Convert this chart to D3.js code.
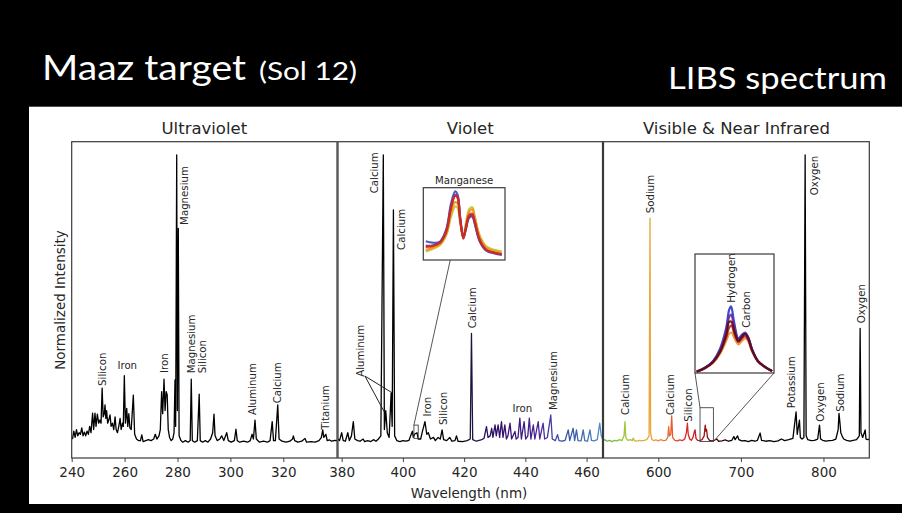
<!DOCTYPE html>
<html>
<head>
<meta charset="utf-8">
<script src="https://cdn.jsdelivr.net/npm/d3@7"></script>
<style>
  body { margin: 0; background: #000; }
  svg { display: block; }
  .chart-text { font-family: "DejaVu Sans", sans-serif; fill: #262626; }
  .head-text { font-family: Lato, "Open Sans", sans-serif; fill: #fff; }
</style>
</head>
<body>
<svg id="chart" width="902" height="513"></svg>
<script>
// ---- data (wavelength nm, normalized intensity 0-100) ----
const panelTitles = ['Ultraviolet', 'Violet', 'Visible & Near Infrared'];
const uvTicks = [240, 260, 280, 300, 320];
const violetTicks = [380, 400, 420, 440, 460];
const vnirTicks = [600, 700, 800];

const uvSpectrum = [
  [240.3, 6], [240.8, 8.5], [241.3, 6.5], [241.8, 9], [242.3, 7], [242.8, 8], [243.3, 7.5], [243.8, 9.5],
  [244.3, 7], [244.8, 8.2], [245.3, 7], [245.8, 8.5], [246.3, 7.5], [246.8, 10], [247.3, 8], [247.9, 14.2],
  [248.3, 9], [248.8, 14.2], [249.2, 10], [249.7, 13.9], [250.2, 11], [250.7, 12], [251.1, 11], [251.5, 22.1],
  [251.9, 13], [252.3, 14], [252.6, 16.8], [252.9, 12.5], [253.2, 15], [253.6, 11], [254, 12], [254.5, 13.6],
  [254.9, 10], [255.4, 11], [255.9, 9], [256.4, 13], [256.8, 9], [257.3, 8], [257.8, 10], [258.3, 12.5],
  [258.7, 9], [259.2, 11], [259.5, 10], [259.9, 26], [260.3, 11], [260.8, 15.7], [261.2, 10], [261.6, 14],
  [262, 9.5], [262.5, 9], [263.3, 19.9], [263.8, 7.5], [264.5, 6], [265.2, 5.5], [266, 5.5], [266.5, 7.3],
  [267, 5.2], [268, 5.5], [269, 5.8], [270, 5.5], [271, 6], [271.6, 7.5], [272.2, 6], [273, 7], [273.5, 9],
  [274, 21], [274.4, 14], [274.9, 24.9], [275.3, 15], [275.7, 21], [276.1, 20], [276.5, 9], [277, 6.5],
  [277.6, 5.5], [278.2, 6], [278.7, 8], [279.05, 24.7], [279.3, 10], [279.7, 95.8], [279.95, 15], [280.3, 72.6],
  [280.6, 7], [281.3, 5.5], [282, 5], [283, 5.5], [284, 5], [284.8, 5.5], [285.2, 24.9], [285.6, 5.5],
  [286.5, 5], [287.5, 5.5], [288.2, 20.2], [288.6, 5.5], [289.5, 5], [290.5, 5.5], [291.5, 5], [292.5, 6],
  [293.3, 8], [293.8, 13.9], [294.2, 7], [295, 5.5], [296, 6], [296.7, 7], [297.5, 5.5], [298.6, 8],
  [299.2, 5.5], [300.3, 5], [301.5, 5.5], [302.1, 9.1], [302.6, 5.5], [303.5, 5], [305, 5.3], [306.5, 5],
  [307.5, 5.5], [308.2, 7.5], [308.7, 6], [309.3, 12], [309.8, 6], [311, 5], [312.5, 5.3], [314, 5],
  [315, 5.5], [315.8, 11.5], [316.3, 5.5], [317, 5.5], [317.9, 16.8], [318.4, 6], [319.5, 5.3], [321, 5],
  [322.5, 5.3], [323.5, 6], [323.8, 7], [324.3, 5.5], [325.5, 5], [327, 5.3], [328.2, 6.2], [328.8, 5],
  [330.5, 5.2], [332, 5], [333.5, 5.5], [334.4, 6.5], [334.9, 8.9], [335.3, 6.5], [336.1, 7.5], [336.6, 5.5],
  [337.5, 5.7], [338.3, 5.3], [339.5, 5.6], [340.4, 5.5]
];

const violetSpectrum = [
  [378.8, 6], [379.3, 5.5], [380, 8], [380.5, 5.5], [381.2, 5.3], [382, 8], [382.5, 5.5], [383.2, 7],
  [383.8, 11.5], [384.3, 6], [385.2, 5.5], [386, 5.3], [387, 6], [387.5, 5.2], [388.5, 5.5], [389.5, 5.2],
  [390.5, 5.8], [391.2, 5.3], [392, 6], [392.8, 7], [393.6, 95.8], [393.95, 9], [394.4, 15], [394.9, 8],
  [395.5, 6.5], [396.15, 20.5], [396.5, 10], [396.9, 78.4], [397.3, 7], [398, 5.5], [399, 5.2], [400, 5.5],
  [401, 5.3], [402, 5.6], [403.1, 8.5], [403.4, 6.5], [403.8, 7.5], [404.6, 8], [405, 6], [405.8, 6],
  [406.4, 8.5], [407.2, 11.5], [407.8, 7.5], [408.3, 8], [409, 6], [410, 6.5], [410.6, 5.5], [411.5, 6.5],
  [412.2, 6], [412.8, 8.9], [413.3, 5.8], [414.3, 5.5], [415.3, 6.5], [416, 5.3], [417, 5.5], [417.5, 7],
  [418, 5.3], [419.5, 5.2], [421, 5.5], [422, 6], [422.4, 39.4], [422.8, 5.8], [424, 5.3], [425.5, 5.7],
  [426.5, 6.2], [427.3, 9.9], [427.8, 6.5], [428.5, 7], [429, 9.4], [429.4, 6.5], [430.1, 10.5], [430.5, 7],
  [431.1, 10.5], [431.6, 6.5], [432.2, 11.5], [432.7, 6.5], [433.3, 10.5], [433.8, 6], [434.3, 7], [435, 11],
  [435.5, 6], [436.6, 8.4], [437, 6], [437.6, 6.5], [438.2, 12.6], [438.7, 6], [439.6, 11.5], [440.1, 6],
  [440.8, 7], [441.3, 12.6], [441.8, 6], [442.6, 10.5], [443.1, 6], [444.2, 11.5], [444.7, 6], [445.8, 11],
  [446.3, 6], [447.2, 6.5], [448.3, 13.6], [448.8, 6], [449.8, 5.5], [450.5, 7.4], [451, 5.5], [452, 5.3],
  [453, 5.6], [454, 8.9], [454.5, 5.5], [455.6, 9.4], [456.1, 5.5], [456.7, 8.9], [457.2, 5.5], [458.2, 5.4],
  [458.9, 8.9], [459.4, 5.5], [460.3, 5.3], [461.1, 8.9], [461.6, 5.6], [462.5, 5.4], [463.5, 5.8], [464.3, 11],
  [464.8, 7], [465.2, 6]
];

const vnirSpectrum = [
  [533.6, 5.5], [535, 5.8], [538, 5.3], [541, 5.6], [544, 5.2], [547, 5.6], [550, 5.4], [553, 5.8],
  [556, 5.5], [558.5, 7], [559.6, 11.5], [560.6, 6.5], [563, 5.6], [566, 5.8], [568.5, 5.5], [569.7, 6.3],
  [571, 5.5], [574, 5.3], [577, 5.6], [580, 5.4], [583, 5.6], [586, 5.8], [588.8, 7], [589.9, 75.8],
  [590.6, 8], [592, 6], [594, 5.5], [597, 5.7], [600, 5.4], [603, 5.8], [606, 5.5], [609, 5.6],
  [611.5, 6.5], [612.5, 9.9], [613.5, 7], [615, 7.5], [616.2, 13.3], [617.3, 6.5], [620, 5.6], [623, 5.4],
  [626, 5.7], [629, 5.5], [632, 6], [634, 8], [635.2, 11], [636.2, 7.5], [638, 6], [640, 5.6],
  [642, 6.5], [643.5, 8.2], [644.5, 8.9], [645.6, 6.2], [647.5, 5.6], [650, 5.5], [653, 5.8], [655.5, 7],
  [656.8, 10.4], [657.6, 8.5], [658.4, 9], [659.5, 6.5], [662, 5.6], [665, 5.4], [668, 5.6], [670.8, 6],
  [673, 5.3], [677, 5.4], [681, 5.7], [685, 5.3], [689, 5.6], [691.5, 6.8], [693, 5.8], [696, 7],
  [697.5, 5.8], [701, 5.4], [705, 5.5], [709, 5.2], [713, 5.6], [717, 5.3], [720, 5.6], [723.3, 7.9],
  [725, 5.6], [730, 5.3], [735, 5.5], [740, 5.2], [745, 5.4], [749, 6], [753, 5.5], [758, 5.8],
  [763, 6.2], [766.8, 14.6], [768.2, 7.5], [770.9, 12], [772, 6.5], [774, 6], [776.3, 6.5], [777.8, 95.8],
  [779, 7], [781, 5.8], [785, 5.5], [789, 5.6], [793, 6], [795.2, 10.4], [796.5, 6], [799, 5.6],
  [803, 5.3], [807, 5.5], [811, 5.6], [815, 6], [817.8, 9], [818.8, 14.1], [820, 11], [821, 8],
  [822.5, 7], [824.5, 6], [828, 5.6], [832, 5.3], [836, 5.6], [840, 5.8], [843.4, 7], [844.4, 41],
  [845.4, 8], [847.5, 6.5], [850.5, 8.9], [851.5, 6], [853.5, 5.8], [855.5, 6]
];

// colour of the trace by wavelength
const violetColorStops = [[419, '#000000'], [422, '#1c1440'], [427, '#2a0f60'], [436, '#3a1478'],
  [445, '#4a2a98'], [451, '#3c48a8'], [458, '#3c6aa8'], [465, '#5090c8']];
const vnirColorStops = [[534, '#58b848'], [548, '#7cc040'], [560, '#a0c838'], [575, '#d8b030'],
  [589, '#e8a838'], [600, '#f0903a'], [615, '#e86030'], [630, '#e03028'], [642, '#d02020'],
  [656, '#a01010'], [668, '#5a0808'], [680, '#200000'], [690, '#000000']];

// peak labels: [text, wavelength, intensity at text start, orientation]
const uvLabels = [
  ['Silicon', 251.5, 22.8, 'v'], ['Iron', 261, 28.1, 'h'], ['Iron', 274.9, 26.9, 'v'],
  ['Magnesium', 282.8, 73.7, 'v'], ['Magnesium', 285.1, 26.8, 'v'], ['Silicon', 289.5, 26.8, 'v'],
  ['Aluminum', 308.4, 13.6, 'v'], ['Calcium', 317.7, 17.3, 'v'], ['Titanium', 335.8, 8.9, 'v']
];
const violetLabels = [
  ['Calcium', 390.6, 83.7, 'v'], ['Calcium', 399.4, 65.8, 'v'], ['Aluminum', 386, 25.7, 'v'],
  ['Iron', 408.1, 13.1, 'v'], ['Silicon', 413.2, 10.4, 'v'], ['Calcium', 422.6, 41, 'v'],
  ['Iron', 439, 14.5, 'h'], ['Magnesium', 449.1, 15.2, 'v']
];
const vnirLabels = [
  ['Calcium', 559.6, 13.6, 'v'], ['Sodium', 590.8, 77.4, 'v'], ['Calcium', 614.9, 13.6, 'v'],
  ['Silicon', 636.4, 11.5, 'v'], ['Potassium', 761.7, 15.7, 'v'], ['Oxygen', 788.5, 83.1, 'v'],
  ['Oxygen', 796.6, 11.5, 'v'], ['Sodium', 820.9, 14.6, 'v'], ['Oxygen', 845.7, 42.6, 'v']
];
// Aluminum pointer lines: [start wl, start int, end wl, end int]
const aluminumPointers = [[387.6, 25.9, 393.9, 14.6], [387.6, 25.9, 396.5, 20.6]];

// zoom insets (wavelength, relative intensity 0-1)
const manganeseRange = [[403.6, 405.0], [6.2, 10.4]];
const manganeseTraces = [
  { color: '#c8c02e', points: [[402.78, 0.12], [402.86, 0.15], [402.95, 0.2], [403.03, 0.34], [403.09, 0.6], [403.14, 0.74], [403.17, 0.72], [403.2, 0.52], [403.24, 0.33], [403.27, 0.5], [403.31, 0.7], [403.35, 0.73], [403.38, 0.6], [403.44, 0.34], [403.52, 0.19], [403.62, 0.14], [403.71, 0.12]] },
  { color: '#ec921e', points: [[402.78, 0.14], [402.86, 0.17], [402.95, 0.22], [403.03, 0.36], [403.09, 0.66], [403.14, 0.8], [403.17, 0.78], [403.2, 0.55], [403.24, 0.31], [403.27, 0.46], [403.31, 0.66], [403.35, 0.7], [403.38, 0.58], [403.44, 0.32], [403.52, 0.17], [403.62, 0.12], [403.71, 0.1]] },
  { color: '#3a4cc0', points: [[402.78, 0.26], [402.86, 0.24], [402.95, 0.25], [403.03, 0.42], [403.09, 0.78], [403.14, 0.95], [403.17, 0.9], [403.2, 0.6], [403.24, 0.32], [403.27, 0.42], [403.31, 0.58], [403.35, 0.6], [403.38, 0.5], [403.44, 0.26], [403.52, 0.13], [403.62, 0.09], [403.71, 0.07]] },
  { color: '#8a2a70', points: [[402.78, 0.2], [402.86, 0.2], [402.95, 0.24], [403.03, 0.4], [403.09, 0.74], [403.14, 0.9], [403.17, 0.87], [403.2, 0.59], [403.24, 0.3], [403.27, 0.43], [403.31, 0.6], [403.35, 0.62], [403.38, 0.52], [403.44, 0.27], [403.52, 0.14], [403.62, 0.1], [403.71, 0.08]] },
  { color: '#d42a1e', points: [[402.78, 0.18], [402.86, 0.19], [402.95, 0.235], [403.03, 0.39], [403.09, 0.72], [403.14, 0.885], [403.17, 0.86], [403.2, 0.58], [403.24, 0.3], [403.27, 0.44], [403.31, 0.62], [403.35, 0.64], [403.38, 0.53], [403.44, 0.28], [403.52, 0.14], [403.62, 0.1], [403.71, 0.08]] }
];
const hydrogenRange = [[650.5, 666.7], [5.2, 15.9]];
const hydrogenTraces = [
  { color: '#e8942e', points: [[649.15, 0.01], [650.85, 0.04], [652.5, 0.085], [653.9, 0.16], [655.2, 0.27], [655.8, 0.33], [656.3, 0.34], [656.8, 0.3], [657.7, 0.24], [658.4, 0.27], [659.1, 0.29], [659.7, 0.27], [660.5, 0.18], [661.7, 0.095], [663.2, 0.048], [664.6, 0.016]] },
  { color: '#c82020', points: [[649.15, 0.011], [650.85, 0.042], [652.5, 0.09], [653.9, 0.17], [655.2, 0.3], [655.8, 0.38], [656.3, 0.4], [656.8, 0.34], [657.7, 0.26], [658.4, 0.29], [659.1, 0.31], [659.7, 0.28], [660.5, 0.19], [661.7, 0.1], [663.2, 0.05], [664.6, 0.017]] },
  { color: '#2838c8', points: [[649.15, 0.012], [650.85, 0.045], [652.5, 0.1], [653.9, 0.2], [655.2, 0.38], [655.8, 0.53], [656.2, 0.56], [656.8, 0.43], [657.7, 0.29], [658.4, 0.32], [659.1, 0.34], [659.7, 0.3], [660.5, 0.2], [661.7, 0.1], [663.2, 0.05], [664.6, 0.016]] },
  { color: '#6a2a9a', points: [[649.15, 0.012], [650.85, 0.044], [652.5, 0.096], [653.9, 0.19], [655.2, 0.35], [655.8, 0.47], [656.2, 0.49], [656.8, 0.4], [657.7, 0.28], [658.4, 0.31], [659.1, 0.33], [659.7, 0.3], [660.5, 0.2], [661.7, 0.1], [663.2, 0.05], [664.6, 0.016]] },
  { color: '#5a0a18', points: [[649.15, 0.011], [650.85, 0.042], [652.5, 0.092], [653.9, 0.176], [655.2, 0.319], [655.8, 0.429], [656.3, 0.429], [656.8, 0.361], [657.7, 0.269], [658.4, 0.303], [659.1, 0.328], [659.7, 0.294], [660.5, 0.193], [661.7, 0.101], [663.2, 0.05], [664.6, 0.017]] }
];
const hydrogenLabels = [['Hydrogen', 656.3, 0.59], ['Carbon', 659.4, 0.38]];

// ---- layout ----
const PLOT_TOP = 141.7;
const PLOT_BOTTOM = 458;
const panels = [
  { title: panelTitles[0], x0: 71.7, x1: 337, domain: [240, 340.3], ticks: uvTicks, data: uvSpectrum, labels: uvLabels, stops: null },
  { title: panelTitles[1], x0: 338, x1: 602.5, domain: [378.8, 465.2], ticks: violetTicks, data: violetSpectrum, labels: violetLabels, stops: violetColorStops },
  { title: panelTitles[2], x0: 603.5, x1: 869.3, domain: [533.6, 855.5], ticks: vnirTicks, data: vnirSpectrum, labels: vnirLabels, stops: vnirColorStops }
];

const svg = d3.select('#chart');
const defs = svg.append('defs');

// white card on black background
svg.append('rect').attr('x', 29).attr('y', 106.7).attr('width', 873).attr('height', 397.3).attr('fill', '#fff');

// header
svg.append('text').attr('class', 'head-text').attr('x', 42).attr('y', 80)
  .attr('font-size', 34).attr('textLength', 204).attr('lengthAdjust', 'spacingAndGlyphs').text('Maaz target');
svg.append('text').attr('class', 'head-text').attr('x', 259).attr('y', 80)
  .attr('font-size', 25).attr('textLength', 98).attr('lengthAdjust', 'spacingAndGlyphs').text('(Sol 12)');
svg.append('text').attr('class', 'head-text').attr('x', 668).attr('y', 89)
  .attr('font-size', 31).attr('textLength', 219).attr('lengthAdjust', 'spacingAndGlyphs').text('LIBS spectrum');

const y = d3.scaleLinear().domain([0, 100]).range([PLOT_BOTTOM, PLOT_TOP]);

panels.forEach((p, i) => {
  const x = d3.scaleLinear().domain(p.domain).range([p.x0, p.x1]);
  p.x = x;
  const g = svg.append('g');

  defs.append('clipPath').attr('id', 'clip' + i)
    .append('rect').attr('x', p.x0).attr('y', PLOT_TOP).attr('width', p.x1 - p.x0).attr('height', PLOT_BOTTOM - PLOT_TOP);

  let stroke = '#000';
  if (p.stops) {
    const grad = defs.append('linearGradient').attr('id', 'grad' + i)
      .attr('gradientUnits', 'userSpaceOnUse')
      .attr('x1', p.x0).attr('x2', p.x1).attr('y1', 0).attr('y2', 0);
    p.stops.forEach(([wl, c]) => {
      grad.append('stop').attr('offset', (x(wl) - p.x0) / (p.x1 - p.x0)).attr('stop-color', c);
    });
    stroke = `url(#grad${i})`;
  }

  const line = d3.line().x(d => x(d[0])).y(d => y(d[1]));
  g.append('path').datum(p.data)
    .attr('clip-path', `url(#clip${i})`)
    .attr('d', line).attr('fill', 'none').attr('stroke', stroke)
    .attr('stroke-width', 1.3).attr('stroke-linejoin', 'round');

  // axis
  const axis = d3.axisBottom(x).tickValues(p.ticks).tickSize(4).tickSizeOuter(0).tickPadding(5);
  const ax = g.append('g').attr('transform', `translate(0,${PLOT_BOTTOM})`).call(axis);
  ax.select('.domain').remove();
  ax.selectAll('line').attr('stroke', '#444');
  ax.selectAll('text').attr('class', 'chart-text').attr('font-size', 13.5).attr('fill', '#333');

  g.append('rect').attr('x', p.x0).attr('y', PLOT_TOP).attr('width', p.x1 - p.x0).attr('height', PLOT_BOTTOM - PLOT_TOP)
    .attr('fill', 'none').attr('stroke', '#3a3a3a').attr('stroke-width', 1.2);

  g.append('text').attr('class', 'chart-text').attr('x', (p.x0 + p.x1) / 2).attr('y', 134)
    .attr('text-anchor', 'middle').attr('font-size', 16.5).text(p.title);

  // peak labels
  p.labels.forEach(([name, wl, v, dir]) => {
    const lx = x(wl), ly = y(v);
    const t = g.append('text').attr('class', 'chart-text').attr('font-size', 10.2).text(name);
    if (dir === 'h') {
      t.attr('x', lx).attr('y', ly).attr('text-anchor', 'middle');
    } else {
      t.attr('x', lx).attr('y', ly).attr('dy', '0.35em')
        .attr('transform', `rotate(-90,${lx},${ly})`);
    }
  });
});

// Aluminum pointer lines in violet panel
const xv = panels[1].x;
aluminumPointers.forEach(([w0, v0, w1, v1]) => {
  svg.append('line').attr('x1', xv(w0)).attr('y1', y(v0)).attr('x2', xv(w1)).attr('y2', y(v1))
    .attr('stroke', '#222').attr('stroke-width', 1);
});

// ---- insets ----
function drawInset(box, traces, xDomain, markRange, xPanel, connectors, title, labels) {
  const ix = d3.scaleLinear().domain(xDomain).range([box.x, box.x + box.w]);
  const iy = d3.scaleLinear().domain([0, 1]).range([box.y + box.h, box.y]);
  const g = svg.append('g');
  g.append('rect').attr('x', box.x).attr('y', box.y).attr('width', box.w).attr('height', box.h).attr('fill', '#fff');
  const line = d3.line().curve(d3.curveCatmullRom).x(d => ix(d[0])).y(d => iy(d[1]));
  traces.forEach(tr => {
    g.append('path').datum(tr.points).attr('d', line).attr('fill', 'none')
      .attr('stroke', tr.color).attr('stroke-width', 2.2).attr('stroke-opacity', 0.9);
  });
  g.append('rect').attr('x', box.x).attr('y', box.y).attr('width', box.w).attr('height', box.h)
    .attr('fill', 'none').attr('stroke', '#3a3a3a').attr('stroke-width', 1.2);

  // marked region on the main spectrum
  const mx0 = xPanel(markRange[0][0]), mx1 = xPanel(markRange[0][1]);
  const my0 = y(markRange[1][1]), my1 = y(markRange[1][0]);
  g.append('rect').attr('x', mx0).attr('y', my0).attr('width', mx1 - mx0).attr('height', my1 - my0)
    .attr('fill', 'none').attr('stroke', '#444').attr('stroke-width', 0.9);
  const corners = { tl: [mx0, my0], br: [mx1, my1] };
  connectors.forEach(([fx, corner]) => {
    const [cx, cy] = corners[corner];
    g.append('line').attr('x1', box.x + fx * box.w).attr('y1', box.y + box.h).attr('x2', cx).attr('y2', cy)
      .attr('stroke', '#444').attr('stroke-width', 0.9);
  });

  if (title) {
    g.append('text').attr('class', 'chart-text').attr('x', box.x + box.w / 2).attr('y', box.y - 3.5)
      .attr('text-anchor', 'middle').attr('font-size', 10.2).text(title);
  }
  (labels || []).forEach(([name, wl, v]) => {
    const lx = ix(wl), ly = iy(v);
    g.append('text').attr('class', 'chart-text').attr('font-size', 10.2).text(name)
      .attr('x', lx).attr('y', ly).attr('dy', '0.35em').attr('transform', `rotate(-90,${lx},${ly})`);
  });
}

drawInset({ x: 423.3, y: 187.7, w: 81.7, h: 72.3 }, manganeseTraces, [402.75, 403.75],
  manganeseRange, panels[1].x, [[0.33, 'tl']], 'Manganese', null);
drawInset({ x: 695, y: 254, w: 79, h: 119 }, hydrogenTraces, [648.8, 665.0],
  hydrogenRange, panels[2].x, [[0, 'tl'], [1, 'br']], null, hydrogenLabels);

// axis titles
svg.append('text').attr('class', 'chart-text').attr('x', 469).attr('y', 498)
  .attr('text-anchor', 'middle').attr('font-size', 13.5).text('Wavelength (nm)');
svg.append('text').attr('class', 'chart-text').attr('x', 60).attr('y', 300).attr('dy', '0.35em')
  .attr('text-anchor', 'middle').attr('font-size', 13.5)
  .attr('transform', 'rotate(-90,60,300)').text('Normalized Intensity');
</script>
</body>
</html>
